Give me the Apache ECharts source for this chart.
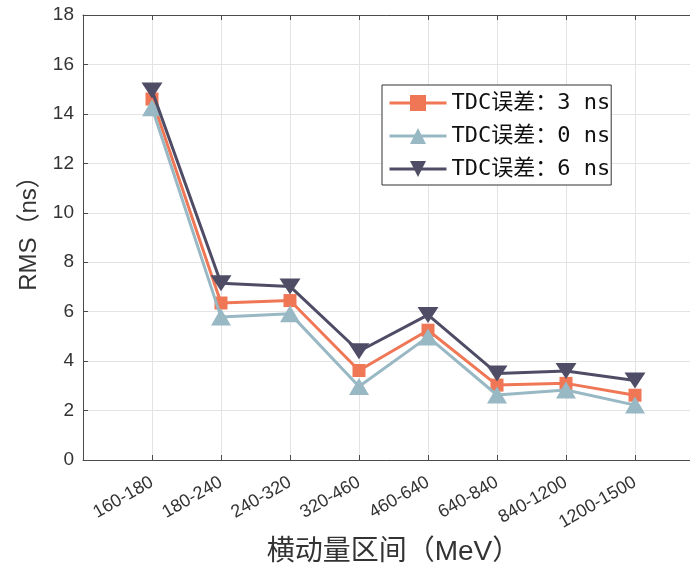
<!DOCTYPE html>
<html>
<head>
<meta charset="utf-8">
<script src="https://cdn.jsdelivr.net/npm/echarts@6/dist/echarts.min.js"></script>
<style>
html,body{margin:0;padding:0;background:#fff;}
#chart{width:690px;height:567px;}
</style>
</head>
<body>
<div id="chart"></div>
<script>
var categories = ['160-180','180-240','240-320','320-460','460-640','640-840','840-1200','1200-1500'];
var yTicks = [0,2,4,6,8,10,12,14,16,18];
var seriesNames = ['TDC误差：3 ns','TDC误差：0 ns','TDC误差：6 ns'];
var rms3ns = [14.6, 6.35, 6.45, 3.62, 5.25, 3.03, 3.1, 2.62];
var rms0ns = [14.25, 5.78, 5.92, 2.97, 4.98, 2.63, 2.83, 2.22];
var rms6ns = [14.95, 7.15, 7.02, 4.4, 5.87, 3.5, 3.6, 3.22];

function toPoints(vals){ return vals.map(function(v,i){ return [i+1, v]; }); }

var chart = echarts.init(document.getElementById('chart'), null, {renderer:'canvas'});
var latin = "'Liberation Sans', 'Noto Sans CJK SC', sans-serif";
var option = {
  animation:false,
  backgroundColor:'#ffffff',
  grid:{left:83, top:15, width:621, height:445, containLabel:false, outerBoundsMode:'none'},
  legend:{
    orient:'vertical', left:382, top:85,
    data:seriesNames,
    backgroundColor:'#ffffff', borderColor:'#333', borderWidth:1, borderRadius:0,
    padding:[7,1,5,6], itemWidth:57, itemHeight:20, itemGap:11,
    lineStyle:{width:3},
    textStyle:{fontSize:22, color:'#111', fontFamily:"'DejaVu Sans Mono','Noto Sans CJK SC',monospace", lineHeight:22}
  },
  xAxis:[{
    type:'value', min:0, max:categories.length+1, interval:1, position:'bottom',
    axisLine:{show:true, onZero:false, lineStyle:{color:'#4a4a4a', width:1}},
    axisTick:{show:true, inside:true, length:5, lineStyle:{color:'#4a4a4a'}},
    axisLabel:{rotate:30, margin:21, fontSize:18, color:'#333', fontFamily:latin,
      formatter:function(v){ return categories[v-1] || ''; }},
    splitLine:{show:true, lineStyle:{color:'#e3e3e3', width:1}},
    name:'横动量区间（MeV）', nameLocation:'middle', nameGap:74,
    nameTextStyle:{fontSize:28, color:'#333', fontFamily:latin}
  },{
    type:'value', min:0, max:categories.length+1, interval:1, position:'top',
    axisLine:{show:true, onZero:false, lineStyle:{color:'#4a4a4a', width:1}},
    axisTick:{show:true, inside:true, length:5, lineStyle:{color:'#4a4a4a'}},
    axisLabel:{show:false}, splitLine:{show:false}
  }],
  yAxis:[{
    type:'value', min:yTicks[0], max:yTicks[yTicks.length-1], interval:2,
    axisLine:{show:true, onZero:false, lineStyle:{color:'#4a4a4a', width:1}},
    axisTick:{show:true, inside:true, length:5, lineStyle:{color:'#4a4a4a'}},
    axisLabel:{margin:9, fontSize:19, color:'#333', fontFamily:latin},
    splitLine:{show:true, lineStyle:{color:'#e3e3e3', width:1}},
    name:'RMS（ns）', nameLocation:'middle', nameGap:42,
    nameTextStyle:{fontSize:24, color:'#333', fontFamily:latin, padding:[0,0,0,20]}
  }],
  series:[
    {name:seriesNames[0], type:'line', data:toPoints(rms3ns), symbol:'rect', symbolSize:13,
     lineStyle:{width:3, color:'#EF7756'}, itemStyle:{color:'#EF7756'}, z:3},
    {name:seriesNames[1], type:'line', data:toPoints(rms0ns), symbol:'triangle', symbolSize:[20,17],
     lineStyle:{width:3, color:'#98B8C4'}, itemStyle:{color:'#98B8C4'}, z:4},
    {name:seriesNames[2], type:'line', data:toPoints(rms6ns), symbol:'triangle', symbolRotate:180, symbolSize:[21,16],
     lineStyle:{width:3, color:'#4F4D66'}, itemStyle:{color:'#4F4D66'}, z:5}
  ]
};
chart.setOption(option);
</script>
</body>
</html>
